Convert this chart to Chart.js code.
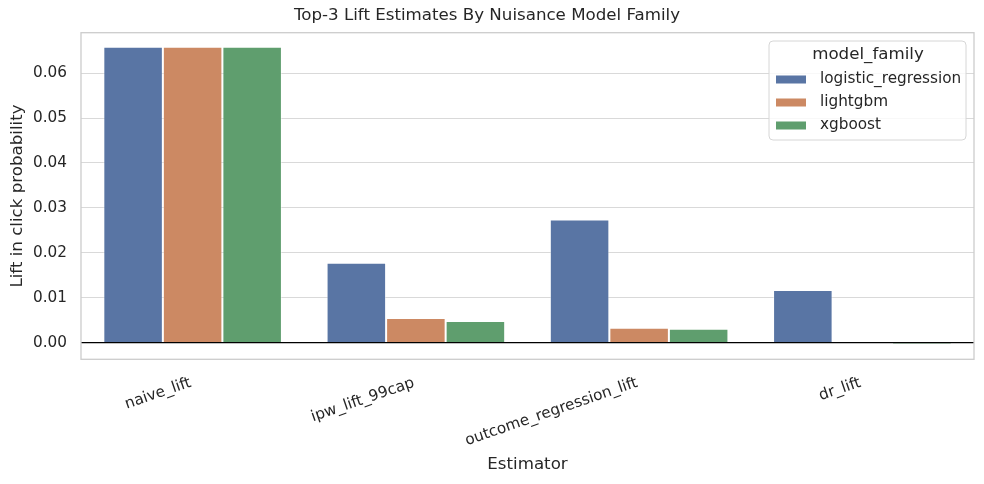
<!DOCTYPE html>
<html>
<head>
<meta charset="utf-8">
<script src="https://cdn.jsdelivr.net/npm/chart.js@4.4.0/dist/chart.umd.min.js"></script>
<style>
  html, body { margin: 0; padding: 0; background: #fff; }
  #wrap { width: 984px; height: 484px; }
</style>
</head>
<body>
<div id="wrap"><canvas id="c" width="984" height="484"></canvas></div>
<script>
const categories = ["naive_lift", "ipw_lift_99cap", "outcome_regression_lift", "dr_lift"];
const seriesNames = ["logistic_regression", "lightgbm", "xgboost"];
const logisticRegression = [0.0659, 0.0178, 0.0274, 0.0117];
const lightgbm = [0.0659, 0.0055, 0.0033, 0.00005];
const xgboost = [0.0659, 0.0048, 0.0031, -0.0003];
const yTicks = [0.00, 0.01, 0.02, 0.03, 0.04, 0.05, 0.06];
const colors = ["#5975a4", "#cc8963", "#5f9e6e"];

const FONT = "'DejaVu Sans', sans-serif";
const TEXT = "#262626";
const F_LABEL = 16.67;
const F_TICK = 15.28;

const framePlugin = {
  id: 'frame',
  afterDatasetsDraw(chart) {
    const {ctx, chartArea: a, scales} = chart;
    ctx.save();
    const y0 = scales.y.getPixelForValue(0);
    ctx.strokeStyle = '#000';
    ctx.lineWidth = 1.3;
    ctx.beginPath();
    ctx.moveTo(a.left, y0);
    ctx.lineTo(a.right, y0);
    ctx.stroke();
    ctx.strokeStyle = '#cccccc';
    ctx.lineWidth = 1.3;
    ctx.strokeRect(a.left, a.top, a.right - a.left, a.bottom - a.top);
    ctx.restore();
  },
  afterDraw(chart) {
    const {ctx} = chart;
    const ds = chart.data.datasets;
    const bx = 769, by = 41, bw = 197, bh = 99, r = 4;
    ctx.save();
    ctx.fillStyle = 'rgba(255,255,255,0.8)';
    ctx.strokeStyle = '#d6d6d6';
    ctx.lineWidth = 1;
    ctx.beginPath();
    ctx.moveTo(bx + r, by);
    ctx.lineTo(bx + bw - r, by);
    ctx.arcTo(bx + bw, by, bx + bw, by + r, r);
    ctx.lineTo(bx + bw, by + bh - r);
    ctx.arcTo(bx + bw, by + bh, bx + bw - r, by + bh, r);
    ctx.lineTo(bx + r, by + bh);
    ctx.arcTo(bx, by + bh, bx, by + bh - r, r);
    ctx.lineTo(bx, by + r);
    ctx.arcTo(bx, by, bx + r, by, r);
    ctx.closePath();
    ctx.fill();
    ctx.stroke();
    ctx.fillStyle = TEXT;
    ctx.font = F_LABEL + "px " + FONT;
    ctx.textAlign = 'center';
    ctx.textBaseline = 'middle';
    ctx.fillText('model_family', 868, 55);
    ctx.font = F_TICK + "px " + FONT;
    ctx.textAlign = 'left';
    ds.forEach((d, i) => {
      const cy = 79.5 + i * 23;
      ctx.fillStyle = d.backgroundColor;
      ctx.fillRect(776, cy - 4, 30, 8);
      ctx.fillStyle = TEXT;
      ctx.fillText(d.label, 820, cy);
    });
    ctx.restore();
  }
};

const values = [logisticRegression, lightgbm, xgboost];

new Chart(document.getElementById('c'), {
  type: 'bar',
  data: {
    labels: categories,
    datasets: seriesNames.map((n, i) => ({
      label: n,
      data: values[i],
      backgroundColor: colors[i],
      borderColor: 'rgba(255,255,255,0.45)',
      borderWidth: 1,
      categoryPercentage: 0.8,
      barPercentage: 1.0
    }))
  },
  options: {
    responsive: false,
    animation: false,
    layout: { padding: { left: 0, right: 10, top: 0, bottom: 0 } },
    plugins: {
      legend: { display: false },
      tooltip: { enabled: false },
      title: {
        display: true,
        text: 'Top-3 Lift Estimates By Nuisance Model Family',
        color: TEXT,
        font: { family: FONT, size: F_LABEL, weight: 'normal' },
        padding: { top: 6, bottom: 6.7 }
      }
    },
    scales: {
      x: {
        grid: { display: false, drawTicks: false },
        border: { display: false },
        ticks: {
          color: TEXT,
          font: { family: FONT, size: F_TICK },
          minRotation: 19,
          maxRotation: 19,
          autoSkip: false,
          padding: 14.5,
          labelOffset: -2
        },
        title: {
          display: true,
          text: 'Estimator',
          color: TEXT,
          font: { family: FONT, size: F_LABEL },
          padding: { top: 0, bottom: 9.5 }
        },
        afterFit(s) { s.height = 124.7; }
      },
      y: {
        min: -0.0037,
        max: 0.069,
        grid: { color: '#d9d9d9', lineWidth: 1.1, drawTicks: false },
        border: { display: false },
        afterBuildTicks(s) { s.ticks = yTicks.map(v => ({ value: v })); },
        ticks: {
          color: TEXT,
          font: { family: FONT, size: F_TICK },
          padding: 14,
          callback: v => Number(v).toFixed(2)
        },
        title: {
          display: true,
          text: 'Lift in click probability',
          color: TEXT,
          font: { family: FONT, size: F_LABEL },
          padding: { top: 7.5, bottom: 0 }
        },
        afterFit(s) { s.width = 81; }
      }
    }
  },
  plugins: [framePlugin]
});
</script>
</body>
</html>
